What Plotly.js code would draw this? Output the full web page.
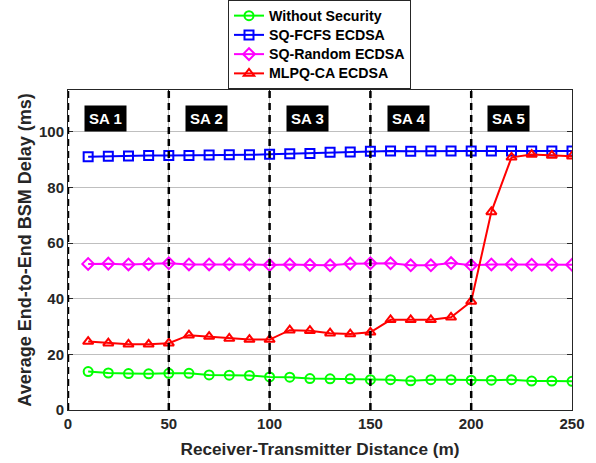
<!DOCTYPE html>
<html>
<head>
<meta charset="utf-8">
<script src="https://cdn.plot.ly/plotly-3.0.1.min.js"></script>
<style>html,body{margin:0;padding:0;background:#fff;}#chart{width:596px;height:463px;}</style>
</head>
<body>
<div id="chart"></div>
<script>
const distance = [10,20,30,40,50,60,70,80,90,100,110,120,130,140,150,160,170,180,190,200,210,220,230,240,250];
const withoutSecurity = [13.8,13.3,13.1,13.0,13.2,13.2,12.6,12.5,12.4,11.9,11.8,11.3,11.2,11.2,10.9,10.9,10.5,10.9,10.9,10.7,10.7,10.9,10.4,10.4,10.3];
const sqFcfs = [91.0,91.2,91.3,91.5,91.5,91.5,91.6,91.7,91.7,91.9,92.1,92.2,92.6,92.7,93.0,93.1,93.0,93.1,93.1,93.1,93.1,93.1,93.1,93.1,93.1];
const sqRandom = [52.5,52.6,52.3,52.4,52.7,52.3,52.3,52.4,52.3,52.1,52.3,52.1,52.0,52.6,52.7,52.7,52.0,52.0,52.8,52.0,52.3,52.3,52.2,52.2,52.2];
const mlpqCa = [24.6,24.0,23.6,23.6,24.0,26.9,26.4,25.7,25.3,25.3,28.7,28.5,27.6,27.3,27.9,32.4,32.4,32.4,33.3,39.0,71.2,90.8,91.8,91.5,91.2];
const seriesNames = ["Without Security","SQ-FCFS ECDSA","SQ-Random ECDSA","MLPQ-CA ECDSA"];
const saBoundaries = [0,50,100,150,200];
const saLabels = ["SA 1","SA 2","SA 3","SA 4","SA 5"];
const saLabelX = [18.7,68.7,118.7,168.7,218.7];
const saLabelY = 104.8;

const fontFam = 'Arial, "Liberation Sans", Helvetica, sans-serif';
function tr(y, name, color, symbol){
  return {x: distance, y: y, name: '<span style="font-size:14.2px">' + name + '</span>', type:'scatter', mode:'lines+markers',
    line:{color:color, width:2},
    marker:{symbol:symbol, size:9, color:color, line:{width:2}}};
}
const data = [
  tr(withoutSecurity, seriesNames[0], '#00ff00', 'circle-open'),
  tr(sqFcfs, seriesNames[1], '#0000ff', 'square-open'),
  tr(sqRandom, seriesNames[2], '#ff00ff', 'diamond-open'),
  tr(mlpqCa, seriesNames[3], '#ff0000', 'triangle-up-open')
];
const shapes = saBoundaries.map(b => ({type:'line', xref:'x', yref:'paper', x0:b, x1:b, y0:0, y1:1,
  line:{color:'#000', width:2.5, dash:'7px,5px'}, layer:'above'}));
const annotations = saLabels.map((t,i) => ({x:saLabelX[i], y:saLabelY, xref:'x', yref:'y', text:t, showarrow:false,
  bgcolor:'#000', borderpad:4, font:{family:fontFam, size:15, color:'#fff', weight:'bold'}}));
const axisCommon = {showline:true, mirror:'ticks', linecolor:'#262626', linewidth:1, ticks:'inside', ticklen:5,
  tickcolor:'#262626', showgrid:true, gridcolor:'#bfbfbf', gridwidth:1, zeroline:false,
  tickfont:{family:fontFam, size:15, color:'#262626', weight:'bold'}};
const layout = {
  width:596, height:463,
  margin:{l:68, r:24, t:90, b:53, autoexpand:false},
  paper_bgcolor:'#fff', plot_bgcolor:'#fff',
  showlegend:true,
  legend:{x:0.499, xanchor:'center', y:1.0086, yanchor:'top', yref:'container',
    bordercolor:'#262626', borderwidth:1, bgcolor:'#fff', tracegroupgap:0,
    font:{family:fontFam, size:12.5, color:'#000', weight:'bold'}},
  xaxis: Object.assign({}, axisCommon, {range:[0,250], tickvals:[0,50,100,150,200,250],
    title:{text:'Receiver-Transmitter Distance (m)', standoff:11, font:{family:fontFam, size:17.2, color:'#262626', weight:'bold'}}}),
  yaxis: Object.assign({}, axisCommon, {range:[0,115], tickvals:[0,20,40,60,80,100],
    title:{text:'Average End-to-End BSM Delay (ms)', standoff:2, font:{family:fontFam, size:18, color:'#262626', weight:'bold'}}}),
  shapes: shapes,
  annotations: annotations
};
Plotly.newPlot('chart', data, layout, {displayModeBar:false, staticPlot:true});
</script>
</body>
</html>
